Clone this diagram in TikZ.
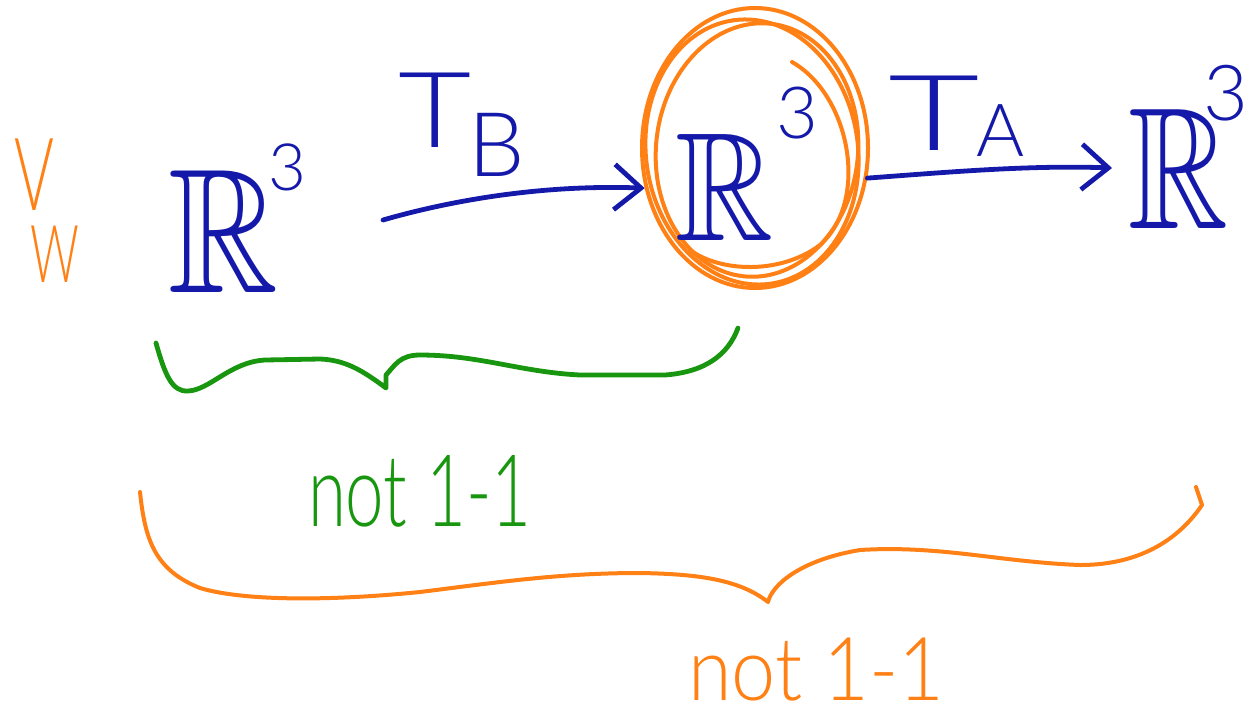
\documentclass[tikz,border=0pt]{standalone}
\usepackage{amssymb}
\usepackage{graphicx}
\usepackage{fontspec}
\setmainfont{Lato Light}
\usetikzlibrary{shapes.geometric,arrows.meta,calc}
\definecolor{hblue}{RGB}{20,25,170}
\definecolor{horange}{RGB}{255,128,20}
\definecolor{hgreen}{RGB}{25,150,15}
\tikzset{
  pen/.style={line width=3.6pt,line cap=round,line join=round},
  bluepen/.style={pen,draw=hblue},
  orangepen/.style={line width=3pt,line cap=round,line join=round,draw=horange},
  greenpen/.style={pen,draw=hgreen},
  arr/.style={bluepen,-{Straight Barb[length=20pt,width=34pt,line width=3.6pt]}},
  txt/.style={inner sep=0pt,outer sep=0pt,anchor=base west},
  bigR/.style={txt,text=hblue},
}
\begin{document}
\begin{tikzpicture}[x=0.75pt,y=-0.75pt]
\useasboundingbox (0,0) rectangle (1252,715);
% V W
\node[txt,text=horange] (v) at (14,210) {\scalebox{0.6}[1]{\fontsize{76}{76}\selectfont V}};
\node[txt,text=horange] (w) at (30,282) {\scalebox{0.6}[1]{\fontsize{60}{60}\selectfont W}};
% R^3 left
\node[bigR] (rA) at (168,292) {\scalebox{0.86}[1]{\fontsize{133}{133}\selectfont$\mathbb{R}$}};
\node[bigR] (rA3) at (268,190) {\fontsize{49}{49}\selectfont 3};
% middle
\node[ellipse,draw=horange,line width=3pt,minimum width=169.5pt,minimum height=210pt,inner sep=0pt] (mid) at (755,148) {};
\draw[orangepen] ($(mid.center)+(-3,4)$) ellipse [x radius=106,y radius=133,rotate=8];
\draw[orangepen] ($(mid.center)+(2,2)$) ellipse [x radius=101,y radius=127,rotate=-6];
\draw[orangepen] (792,62) .. controls (850,95) and (870,200) .. (820,245) .. controls (780,275) and (720,272) .. (690,250);
\node[bigR] (rB) at (675,240) {\scalebox{0.88}[1]{\fontsize{116}{116}\selectfont$\mathbb{R}$}};
\node[bigR] (rB3) at (776,138) {\fontsize{54}{54}\selectfont 3};
% right
\node[bigR] (rC) at (1128,228) {\scalebox{0.8}[1]{\fontsize{130}{130}\selectfont$\mathbb{R}$}};
\node[bigR] (rC3) at (1203,120) {\fontsize{58}{58}\selectfont 3};
% arrows
\coordinate (tbS) at (383,220);
\coordinate (taE) at (1112,168);
\draw[arr] (tbS) .. controls (470,195) and (560,185) .. (mid.200);
\draw[arr] (mid.345) .. controls (950,172) and (1030,165) .. (taE);
% labels
\node[txt,text=hblue] (tb) at (398,147) {\scalebox{1.2}[1]{\fontsize{79}{79}\selectfont T}\kern-2pt\raisebox{-22pt}{\fontsize{67}{67}\selectfont B}};
\node[txt,text=hblue] (ta) at (888,150) {\scalebox{1.5}[1]{\fontsize{79}{79}\selectfont T}\kern-2pt\raisebox{-5pt}{\fontsize{55}{55}\selectfont A}};
% green brace
\draw[greenpen] (156,343) .. controls (165,375) and (172,392) .. (188,391)
  .. controls (210,390) and (230,362) .. (265,360) -- (320,359)
  .. controls (345,360) and (362,370) .. (386,388) -- (386,375)
  .. controls (395,365) and (400,355) .. (420,355)
  .. controls (480,355) and (520,372) .. (580,375) -- (665,375)
  .. controls (705,372) and (728,355) .. (738,328);
\node[txt,text=hgreen] (g) at (308,526) {\scalebox{0.69}[1]{\fontsize{75}{75}\selectfont not 1-1}};
% orange brace
\draw[orangepen] (140,492) .. controls (145,540) and (155,570) .. (200,588)
  .. controls (240,600) and (320,602) .. (420,592)
  .. controls (500,582) and (560,573) .. (640,573)
  .. controls (700,574) and (740,580) .. (768,602)
  .. controls (772,585) and (800,560) .. (860,550)
  .. controls (940,545) and (1000,562) .. (1080,565)
  .. controls (1150,565) and (1185,530) .. (1202,505) -- (1196,487);
\node[txt,text=horange] (o) at (688,700) {\scalebox{0.9}[1]{\fontsize{66}{66}\selectfont not 1-1}};
\end{tikzpicture}
\end{document}
